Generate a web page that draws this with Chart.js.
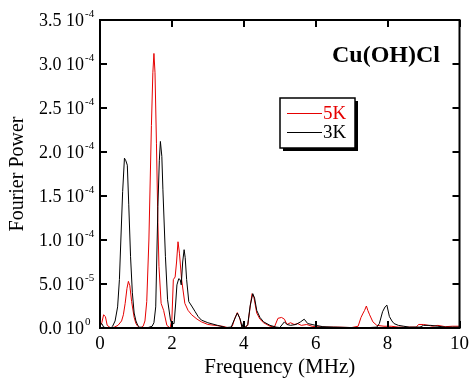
<!DOCTYPE html>
<html>
<head>
<meta charset="utf-8">
<script src="https://cdn.jsdelivr.net/npm/chart.js@4.4.1/dist/chart.umd.min.js"></script>
<style>
  html, body { margin: 0; padding: 0; background: #ffffff; }
  #wrap { width: 474px; height: 383px; position: relative; }
</style>
</head>
<body>
<div id="wrap"><canvas id="c"></canvas></div>
<script>
// ---- data (power in units of 1e-5) ----
const freq5K = [0, 0.05, 0.1, 0.15, 0.2, 0.3, 0.4, 0.5, 0.6, 0.65, 0.7, 0.75, 0.79, 0.83, 0.88, 0.95, 1.0, 1.05, 1.12, 1.2, 1.25, 1.3, 1.36, 1.43, 1.47, 1.5, 1.53, 1.57, 1.61, 1.64, 1.7, 1.77, 1.86, 1.95, 2.0, 2.04, 2.09, 2.13, 2.17, 2.21, 2.27, 2.36, 2.45, 2.55, 2.7, 2.82, 3.0, 3.2, 3.4, 3.6, 3.68, 3.76, 3.82, 3.88, 3.95, 4.0, 4.11, 4.18, 4.23, 4.28, 4.36, 4.45, 4.55, 4.73, 4.85, 4.95, 5.05, 5.13, 5.2, 5.3, 5.4, 5.5, 5.6, 5.75, 5.9, 6.0, 6.3, 6.6, 7.0, 7.18, 7.26, 7.32, 7.36, 7.41, 7.45, 7.5, 7.59, 7.7, 7.9, 8.1, 8.3, 8.6, 8.8, 8.86, 9.0, 9.14, 9.25, 9.4, 9.6, 9.8, 10];
const power5K = [0.2, 0.6, 1.5, 1.3, 0.3, 0.0, 0.1, 0.3, 0.8, 1.5, 2.8, 4.5, 5.3, 4.8, 3.0, 1.2, 0.5, 0.2, 0.0, 0.2, 0.8, 3.0, 10.0, 23.0, 29.0, 31.2, 29.0, 21.0, 12.0, 7.0, 2.8, 2.0, 0.3, 0.0, 1.0, 5.5, 5.8, 7.5, 9.8, 8.5, 5.5, 2.8, 2.0, 1.5, 1.0, 0.7, 0.4, 0.3, 0.2, 0.0, 0.2, 1.2, 1.75, 1.2, 0.1, 0.0, 0.3, 2.5, 3.9, 3.5, 1.7, 1.0, 0.6, 0.2, 0.1, 1.1, 1.2, 1.0, 0.4, 0.6, 0.4, 0.5, 0.3, 0.4, 0.2, 0.15, 0.1, 0.1, 0.05, 0.2, 1.2, 1.7, 2.0, 2.5, 2.0, 1.5, 0.7, 0.3, 0.2, 0.2, 0.1, 0.1, 0.1, 0.4, 0.4, 0.3, 0.2, 0.3, 0.15, 0.2, 0.2];

const freq3K = [0, 0.05, 0.1, 0.2, 0.3, 0.35, 0.42, 0.49, 0.54, 0.58, 0.63, 0.68, 0.72, 0.76, 0.8, 0.85, 0.9, 0.95, 1.0, 1.05, 1.1, 1.3, 1.45, 1.5, 1.55, 1.61, 1.65, 1.68, 1.72, 1.75, 1.82, 1.88, 1.96, 2.0, 2.06, 2.1, 2.14, 2.19, 2.23, 2.26, 2.3, 2.34, 2.37, 2.41, 2.47, 2.55, 2.64, 2.73, 2.82, 3.0, 3.27, 3.5, 3.65, 3.72, 3.82, 3.9, 3.95, 4.0, 4.03, 4.11, 4.18, 4.25, 4.3, 4.36, 4.45, 4.55, 4.73, 4.9, 5.0, 5.13, 5.2, 5.3, 5.45, 5.58, 5.68, 5.78, 5.9, 6.0, 6.2, 6.5, 7.0, 7.5, 7.7, 7.77, 7.86, 7.93, 7.98, 8.05, 8.12, 8.18, 8.3, 8.45, 8.6, 8.9, 9.0, 9.2, 9.4, 9.6, 10];
const power3K = [0.3, 0.5, 0.1, 0.0, 0.0, 0.2, 0.8, 2.4, 5.5, 10.0, 15.5, 19.3, 19.0, 18.5, 14.0, 8.1, 4.0, 1.7, 0.8, 0.3, 0.1, 0.0, 0.2, 0.6, 2.4, 13.8, 19.0, 21.2, 19.5, 15.7, 8.1, 3.2, 0.9, 0.5, 0.5, 2.5, 4.9, 5.6, 5.5, 4.9, 7.5, 8.9, 8.0, 5.5, 3.0, 2.5, 1.9, 1.3, 0.9, 0.6, 0.3, 0.05, 0.1, 0.8, 1.7, 1.0, 0.1, 0.7, 0.0, 0.4, 2.6, 3.9, 3.4, 2.0, 1.2, 0.7, 0.3, 0.1, 0.05, 0.7, 0.4, 0.3, 0.4, 0.7, 1.0, 0.5, 0.4, 0.3, 0.15, 0.1, 0.05, 0.05, 0.1, 0.5, 1.85, 2.4, 2.6, 1.3, 0.8, 0.5, 0.3, 0.2, 0.1, 0.1, 0.3, 0.3, 0.2, 0.1, 0.1];

const seriesLabels = ["5K", "3K"];
const seriesColors = ["rgb(230,0,0)", "#000000"];

const yTickValues = [0, 5, 10, 15, 20, 25, 30, 35];
const yTickMantissa = ["0.0 10", "5.0 10", "1.0 10", "1.5 10", "2.0 10", "2.5 10", "3.0 10", "3.5 10"];
const yTickExponent = ["0", "-5", "-4", "-4", "-4", "-4", "-4", "-4"];
const xTickValues = [0, 2, 4, 6, 8, 10];

const chartTitle = "Cu(OH)Cl";
const xTitle = "Frequency (MHz)";
const yTitle = "Fourier Power";

const SERIF = "'Liberation Serif', 'Times New Roman', serif";

const framePlugin = {
  id: 'frame',
  afterDraw(chart) {
    const ctx = chart.ctx;
    const a = chart.chartArea;
    const xs = chart.scales.x, ys = chart.scales.y;
    ctx.save();
    ctx.strokeStyle = '#000';
    ctx.lineWidth = 2;
    ctx.strokeRect(a.left, a.top, a.right - a.left, a.bottom - a.top);
    const tl = 7;
    ctx.beginPath();
    xTickValues.forEach(v => {
      const px = Math.round(xs.getPixelForValue(v));
      ctx.moveTo(px, a.bottom); ctx.lineTo(px, a.bottom - tl);
      ctx.moveTo(px, a.top); ctx.lineTo(px, a.top + tl);
    });
    yTickValues.forEach(v => {
      const py = Math.round(ys.getPixelForValue(v));
      ctx.moveTo(a.left, py); ctx.lineTo(a.left + tl, py);
      ctx.moveTo(a.right, py); ctx.lineTo(a.right - tl, py);
    });
    ctx.stroke();

    // y tick labels with superscript exponent
    ctx.fillStyle = '#000';
    yTickValues.forEach((v, i) => {
      const py = ys.getPixelForValue(v);
      ctx.font = "18px " + SERIF;
      ctx.textAlign = 'right';
      ctx.textBaseline = 'middle';
      ctx.fillText(yTickMantissa[i], a.left - 16, py + 1);
      ctx.font = "11px " + SERIF;
      ctx.textAlign = 'left';
      ctx.fillText(yTickExponent[i], a.left - 15, py - 6);
    });

    // chart title inside plot
    ctx.font = "bold 24px " + SERIF;
    ctx.textAlign = 'left';
    ctx.textBaseline = 'alphabetic';
    ctx.fillText(chartTitle, 332, 62);

    // legend box with shadow
    const lx = 280, ly = 98, lw = 75, lh = 50;
    ctx.fillStyle = '#000';
    ctx.fillRect(lx + 3, ly + 3, lw, lh);
    ctx.fillStyle = '#fff';
    ctx.fillRect(lx, ly, lw, lh);
    ctx.lineWidth = 1.5;
    ctx.strokeStyle = '#000';
    ctx.strokeRect(lx, ly, lw, lh);
    ctx.font = "19px " + SERIF;
    ctx.textBaseline = 'middle';
    const rows = [113, 132];
    seriesLabels.forEach((lab, i) => {
      ctx.strokeStyle = seriesColors[i];
      ctx.lineWidth = 1;
      ctx.beginPath();
      ctx.moveTo(287, rows[i] + 0.5); ctx.lineTo(322, rows[i] + 0.5);
      ctx.stroke();
      ctx.fillStyle = seriesColors[i];
      ctx.fillText(lab, 323, rows[i] + 1);
    });
    ctx.restore();
  }
};

const toPts = (xs, ys) => xs.map((f, i) => ({ x: f, y: ys[i] }));

new Chart(document.getElementById('c'), {
  type: 'line',
  data: {
    datasets: [
      { label: seriesLabels[0], data: toPts(freq5K, power5K), borderColor: seriesColors[0], borderWidth: 1, pointRadius: 0, tension: 0, order: 2 },
      { label: seriesLabels[1], data: toPts(freq3K, power3K), borderColor: seriesColors[1], borderWidth: 1, pointRadius: 0, tension: 0, order: 1 }
    ]
  },
  options: {
    responsive: true,
    maintainAspectRatio: false,
    animation: false,
    layout: { padding: { top: 20, right: 7, left: 0, bottom: 0 } },
    plugins: { legend: { display: false }, tooltip: { enabled: false } },
    scales: {
      x: {
        type: 'linear', min: 0, max: 10,
        afterBuildTicks: s => { s.ticks = xTickValues.map(v => ({ value: v })); },
        grid: { display: false, drawTicks: false },
        border: { display: false },
        ticks: { color: '#000', font: { family: SERIF, size: 19 }, padding: 5, maxRotation: 0 },
        title: { display: true, text: xTitle, color: '#000', font: { family: SERIF, size: 21 }, padding: { top: 0, bottom: 3 } },
        afterFit: s => { s.height = 55; }
      },
      y: {
        type: 'linear', min: 0, max: 35,
        afterBuildTicks: s => { s.ticks = yTickValues.map(v => ({ value: v })); },
        grid: { display: false, drawTicks: false },
        border: { display: false },
        ticks: { display: false },
        title: { display: true, text: yTitle, color: '#000', font: { family: SERIF, size: 20 }, padding: { top: 6, bottom: 0 } },
        afterFit: s => { s.width = 100; }
      }
    }
  },
  plugins: [framePlugin]
});
</script>
</body>
</html>
